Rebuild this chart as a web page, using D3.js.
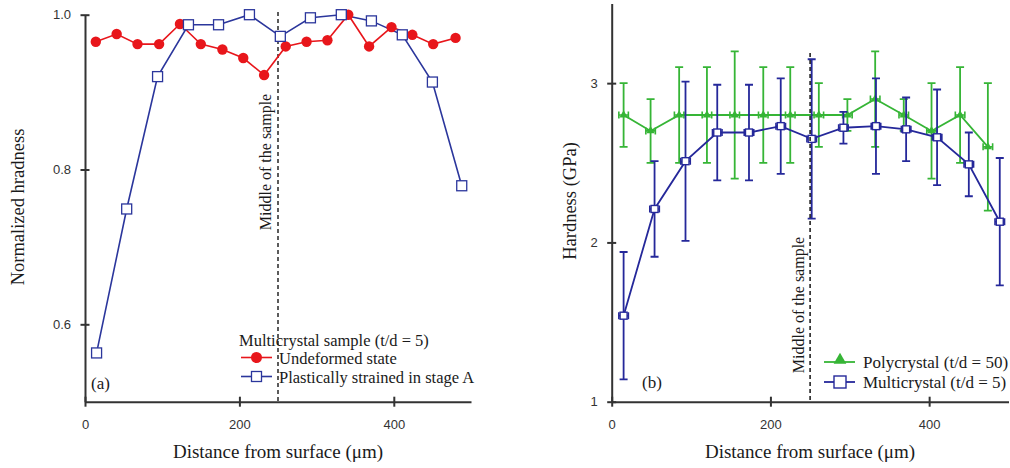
<!DOCTYPE html>
<html>
<head>
<meta charset="utf-8">
<script src="https://cdn.jsdelivr.net/npm/d3@7"></script>
<style>
  html, body { margin: 0; padding: 0; background: #fff; }
  svg { display: block; }
  .serif { font-family: "Liberation Serif", "Times New Roman", serif; fill: #1a1a1a; }
  .tick text { font-family: "Liberation Sans", Arial, sans-serif; font-size: 13px; fill: #333; }
</style>
</head>
<body>
<svg id="chart" width="1010" height="468"></svg>
<script>
// ---- Panel (a): normalized hardness of the multicrystal sample ----
const depthUndeformed = [14, 41, 68, 96, 123, 150, 178, 205, 232, 260, 287, 314, 341, 368, 397, 424, 451, 480];
const undeformed = [0.965, 0.975, 0.962, 0.962, 0.988, 0.962, 0.955, 0.944, 0.922, 0.959, 0.965, 0.967, 1.0, 0.959, 0.984, 0.974, 0.962, 0.970];
const depthStrained = [15, 54, 94, 134, 173, 213, 253, 292, 332, 371, 411, 450, 488];
const strained = [0.563, 0.749, 0.920, 0.987, 0.987, 1.0, 0.972, 0.996, 1.0, 0.992, 0.974, 0.913, 0.779];

// ---- Panel (b): absolute hardness with scatter ----
const depthPoly = [15, 49, 85, 120, 155, 191, 225, 261, 297, 332, 368, 403, 439, 474];
const polyHardness = [2.8, 2.7, 2.8, 2.8, 2.8, 2.8, 2.8, 2.8, 2.8, 2.9, 2.8, 2.7, 2.8, 2.6];
const polyError = [0.2, 0.2, 0.3, 0.3, 0.4, 0.3, 0.3, 0.2, 0.1, 0.3, 0.1, 0.3, 0.3, 0.4];
const depthMulti = [15, 54, 93, 133, 173, 213, 252, 292, 333, 371, 410, 450, 489];
const multiHardness = [1.54, 2.21, 2.51, 2.69, 2.69, 2.73, 2.65, 2.72, 2.73, 2.71, 2.66, 2.49, 2.13];
const multiError = [0.4, 0.3, 0.5, 0.3, 0.3, 0.3, 0.5, 0.1, 0.3, 0.2, 0.3, 0.2, 0.4];
const depthError = 6; // lateral uncertainty of indent position (µm)

const xTicks = [0, 200, 400];
const yTicksA = [0.6, 0.8, 1.0];
const yTicksB = [1, 2, 3];
const middleDepth = 250;

const RED = "#e8161b", BLUE_A = "#2b369c", BLUE_B = "#25289a", GREEN = "#36b536", AXIS = "#333";

const svg = d3.select("#chart");

function crossTicks(g, horizontal) {
  g.select(".domain").attr("stroke", AXIS).attr("stroke-width", 2);
  g.selectAll(".tick line").attr("stroke", AXIS).attr("stroke-width", 2);
  if (horizontal) g.selectAll(".tick line").attr("y1", -5).attr("y2", 5);
  else g.selectAll(".tick line").attr("x1", -4.5).attr("x2", 4.5);
}

// ================= Panel (a) =================
const xA = d3.scaleLinear().domain([0, 500]).range([85, 471]);
const yA = d3.scaleLinear().domain([0.5, 1.0]).range([401.7, 14.7]);

svg.append("g").attr("transform", `translate(0,${yA(0.5)})`)
  .call(d3.axisBottom(xA).tickValues(xTicks).tickSizeOuter(0).tickPadding(12))
  .call(g => crossTicks(g, true));
svg.append("g").attr("transform", `translate(${xA(0)},0)`)
  .call(d3.axisLeft(yA).tickValues(yTicksA).tickFormat(d3.format(".1f")).tickSizeOuter(0).tickPadding(8))
  .call(g => crossTicks(g, false));

svg.append("line")
  .attr("x1", xA(middleDepth)).attr("x2", xA(middleDepth))
  .attr("y1", 12).attr("y2", yA(0.5))
  .attr("stroke", "#333").attr("stroke-width", 1.6).attr("stroke-dasharray", "4,3");

svg.append("text").attr("class", "serif").attr("font-size", 16)
  .attr("text-anchor", "middle")
  .attr("transform", `translate(${xA(middleDepth) - 13},162) rotate(-90)`)
  .attr("dy", "0.35em").text("Middle of the sample");

const lineA = (xs, ys) => d3.line().x((d, i) => xA(xs[i])).y(d => yA(d))(ys);

svg.append("path").attr("d", lineA(depthUndeformed, undeformed))
  .attr("fill", "none").attr("stroke", RED).attr("stroke-width", 1.6);
svg.append("path").attr("d", lineA(depthStrained, strained))
  .attr("fill", "none").attr("stroke", BLUE_A).attr("stroke-width", 1.6);

svg.append("g").selectAll("circle").data(undeformed).join("circle")
  .attr("cx", (d, i) => xA(depthUndeformed[i])).attr("cy", d => yA(d))
  .attr("r", 5.2).attr("fill", RED);

svg.append("g").selectAll("rect").data(strained).join("rect")
  .attr("x", (d, i) => xA(depthStrained[i]) - 5).attr("y", d => yA(d) - 5)
  .attr("width", 10).attr("height", 10)
  .attr("fill", "#fff").attr("stroke", BLUE_A).attr("stroke-width", 1.3);

// legend (a)
svg.append("text").attr("class", "serif").attr("font-size", 16.5)
  .attr("x", 239).attr("y", 346).text("Multicrystal sample (t/d = 5)");
svg.append("line").attr("x1", 241).attr("x2", 272).attr("y1", 357.5).attr("y2", 357.5)
  .attr("stroke", RED).attr("stroke-width", 1.6);
svg.append("circle").attr("cx", 256.5).attr("cy", 357.5).attr("r", 5.5).attr("fill", RED);
svg.append("text").attr("class", "serif").attr("font-size", 16.5)
  .attr("x", 279).attr("y", 363.5).text("Undeformed state");
svg.append("line").attr("x1", 241).attr("x2", 272).attr("y1", 376.5).attr("y2", 376.5)
  .attr("stroke", BLUE_A).attr("stroke-width", 1.6);
svg.append("rect").attr("x", 251.5).attr("y", 371.5).attr("width", 10).attr("height", 10)
  .attr("fill", "#fff").attr("stroke", BLUE_A).attr("stroke-width", 1.3);
svg.append("text").attr("class", "serif").attr("font-size", 16.5)
  .attr("x", 279).attr("y", 382.5).text("Plastically strained in stage A");

svg.append("text").attr("class", "serif").attr("font-size", 17)
  .attr("x", 91).attr("y", 389).text("(a)");

svg.append("text").attr("class", "serif").attr("font-size", 18.5)
  .attr("text-anchor", "middle")
  .attr("transform", "translate(18,207) rotate(-90)")
  .attr("dy", "0.35em").text("Normalized hradness");
svg.append("text").attr("class", "serif").attr("font-size", 19)
  .attr("text-anchor", "middle").attr("x", 278).attr("y", 458)
  .text("Distance from surface (\u03bcm)");

// ================= Panel (b) =================
const xB = d3.scaleLinear().domain([0, 500]).range([611.7, 1008.5]);
const yB = d3.scaleLinear().domain([1, 3.5]).range([401.7, 3.5]);

svg.append("g").attr("transform", `translate(0,${yB(1)})`)
  .call(d3.axisBottom(xB).tickValues(xTicks).tickSizeOuter(0).tickPadding(12))
  .call(g => crossTicks(g, true));
svg.append("g").attr("transform", `translate(${xB(0)},0)`)
  .call(d3.axisLeft(yB).tickValues(yTicksB).tickFormat(d3.format("d")).tickSizeOuter(0).tickPadding(8))
  .call(g => crossTicks(g, false));

function errorSeries(xs, ys, es, color, marker) {
  const g = svg.append("g");
  const cap = 4;
  // vertical bars
  g.selectAll("path.ev").data(ys).join("path").attr("class", "ev")
    .attr("d", (d, i) => {
      const x = xB(xs[i]), t = yB(d + es[i]), b = yB(d - es[i]);
      return `M${x},${t}V${b}M${x - cap},${t}H${x + cap}M${x - cap},${b}H${x + cap}`;
    })
    .attr("stroke", color).attr("stroke-width", 1.8).attr("fill", "none");
  // horizontal bars
  g.selectAll("path.eh").data(ys).join("path").attr("class", "eh")
    .attr("d", (d, i) => {
      const y = yB(d), l = xB(xs[i] - depthError), r = xB(xs[i] + depthError);
      return `M${l},${y}H${r}M${l},${y - 3.5}V${y + 3.5}M${r},${y - 3.5}V${y + 3.5}`;
    })
    .attr("stroke", color).attr("stroke-width", 1.6).attr("fill", "none");
  // connecting line
  g.append("path")
    .attr("d", d3.line().x((d, i) => xB(xs[i])).y(d => yB(d))(ys))
    .attr("fill", "none").attr("stroke", color).attr("stroke-width", 1.8);
  if (marker === "triangle") {
    g.selectAll("path.m").data(ys).join("path").attr("class", "m")
      .attr("transform", (d, i) => `translate(${xB(xs[i])},${yB(d)})`)
      .attr("d", d3.symbol(d3.symbolTriangle, 30)).attr("fill", color);
  } else {
    g.selectAll("rect.m").data(ys).join("rect").attr("class", "m")
      .attr("x", (d, i) => xB(xs[i]) - 3.5).attr("y", d => yB(d) - 3.5)
      .attr("width", 7).attr("height", 7)
      .attr("fill", "#fff").attr("stroke", color).attr("stroke-width", 1.4);
  }
}

errorSeries(depthPoly, polyHardness, polyError, GREEN, "triangle");
errorSeries(depthMulti, multiHardness, multiError, BLUE_B, "square");

svg.append("line")
  .attr("x1", xB(middleDepth)).attr("x2", xB(middleDepth))
  .attr("y1", 53).attr("y2", yB(1))
  .attr("stroke", "#222").attr("stroke-width", 1.6).attr("stroke-dasharray", "4,3");

svg.append("text").attr("class", "serif").attr("font-size", 16)
  .attr("text-anchor", "middle")
  .attr("transform", `translate(${xB(middleDepth) - 12},305) rotate(-90)`)
  .attr("dy", "0.35em").text("Middle of the sample");

// legend (b)
svg.append("line").attr("x1", 824).attr("x2", 855).attr("y1", 362).attr("y2", 362)
  .attr("stroke", GREEN).attr("stroke-width", 1.8);
svg.append("path").attr("transform", "translate(840,360)")
  .attr("d", d3.symbol(d3.symbolTriangle, 70)).attr("fill", GREEN);
svg.append("text").attr("class", "serif").attr("font-size", 17)
  .attr("x", 863).attr("y", 368).text("Polycrystal (t/d = 50)");
svg.append("line").attr("x1", 824).attr("x2", 855).attr("y1", 382).attr("y2", 382)
  .attr("stroke", BLUE_B).attr("stroke-width", 1.8);
svg.append("rect").attr("x", 834).attr("y", 376).attr("width", 12).attr("height", 12)
  .attr("fill", "#fff").attr("stroke", BLUE_B).attr("stroke-width", 1.4);
svg.append("text").attr("class", "serif").attr("font-size", 17)
  .attr("x", 863).attr("y", 388).text("Multicrystal (t/d = 5)");

svg.append("text").attr("class", "serif").attr("font-size", 17)
  .attr("x", 642).attr("y", 388).text("(b)");

svg.append("text").attr("class", "serif").attr("font-size", 18.5)
  .attr("text-anchor", "middle")
  .attr("transform", "translate(570,201) rotate(-90)")
  .attr("dy", "0.35em").text("Hardness (GPa)");
svg.append("text").attr("class", "serif").attr("font-size", 19)
  .attr("text-anchor", "middle").attr("x", 810).attr("y", 458)
  .text("Distance from surface (\u03bcm)");
</script>
</body>
</html>
